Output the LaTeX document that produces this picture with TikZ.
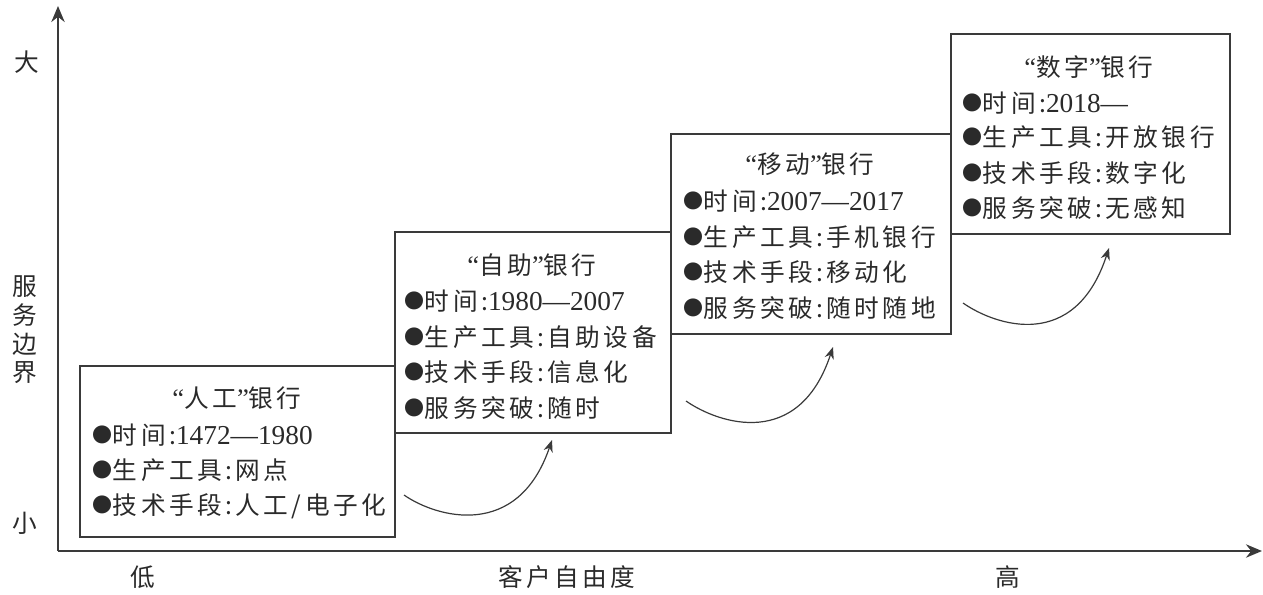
\documentclass[tikz,border=0pt]{standalone}
\usepackage{fontspec}
\setmainfont{Liberation Serif}
\newfontfamily\cjk[LetterSpace=14]{Noto Sans CJK SC}
\newfontfamily\cjkplain{Noto Sans CJK SC}
\usetikzlibrary{arrows.meta}
\definecolor{ink}{HTML}{2A2A2A}
\definecolor{linec}{HTML}{3A3A3A}
\newcommand{\bul}{{\cjkplain\fontsize{15}{15}\selectfont\raisebox{1.3pt}{●}}\hspace{0.5pt}}
\newcommand{\num}[1]{{\rmfamily\fontsize{20.5}{22}\selectfont #1}}
\newcommand{\oq}{{\rmfamily\fontsize{20}{22}\selectfont “}}
\newcommand{\cq}{{\rmfamily\fontsize{20}{22}\selectfont ”}}
\begin{document}
\begin{tikzpicture}[x=0.75pt,y=-0.75pt,
  axis/.style={draw=linec, line width=1.6pt, -{Stealth[length=12pt,width=10pt]}},
  curvy/.style={draw=linec, line width=0.9pt, -{Stealth[length=9pt,width=7pt]}},
  bankbox/.style={draw=linec, line width=1.2pt, inner sep=0pt, anchor=north west},
  txt/.style={inner sep=0pt, text=ink, font=\cjk\fontsize{18.5}{22}\selectfont},
  line/.style={txt, anchor=west},
  title/.style={txt, anchor=center},
  lab/.style={txt, anchor=center}]
\useasboundingbox (0,0) rectangle (1263,594);

% axes
\coordinate (o) at (58,551);
\coordinate (ytip) at (58,6);
\coordinate (xtip) at (1262,551);
\draw[axis] (o) -- (ytip);
\draw[axis] (o) -- (xtip);

% axis labels
\node[lab] (big) at (27,62) {大};
\node[lab] (small) at (25,523) {小};
\node[lab, align=center, font=\cjkplain\fontsize{18.5}{21.5}\selectfont] (svc) at (25,330) {服\\务\\边\\界};
\node[lab] (low) at (143,577) {低};
\node[lab] (free) at (567,577) {客户自由度};
\node[lab] (high) at (1008,577) {高};

% boxes
\node[bankbox, minimum width=315*0.75pt, minimum height=171*0.75pt] (b1) at (79,365) {};
\node[bankbox, minimum width=276*0.75pt, minimum height=201*0.75pt] (b2) at (394,231) {};
\node[bankbox, minimum width=280*0.75pt, minimum height=200*0.75pt] (b3) at (670,133) {};
\node[bankbox, minimum width=279*0.75pt, minimum height=200*0.75pt] (b4) at (950,33) {};

% box 1
\node[title] (t1) at (237,398) {\oq 人工\cq 银行};
\node[line] (l11) at (92,435) {\bul 时间:\num{1472—1980}};
\node[line] (l12) at (92,470) {\bul 生产工具:网点};
\node[line] (l13) at (92,506) {\bul 技术手段:人工/电子化};

% box 2
\node[title] (t2) at (532,265) {\oq 自助\cq 银行};
\node[line] (l21) at (404,301) {\bul 时间:\num{1980—2007}};
\node[line] (l22) at (404,337) {\bul 生产工具:自助设备};
\node[line] (l23) at (404,372) {\bul 技术手段:信息化};
\node[line] (l24) at (404,408) {\bul 服务突破:随时};

% box 3
\node[title] (t3) at (810,164) {\oq 移动\cq 银行};
\node[line] (l31) at (683,201) {\bul 时间:\num{2007—2017}};
\node[line] (l32) at (683,237) {\bul 生产工具:手机银行};
\node[line] (l33) at (683,272) {\bul 技术手段:移动化};
\node[line] (l34) at (683,308) {\bul 服务突破:随时随地};

% box 4
\node[title] (t4) at (1089,67) {\oq 数字\cq 银行};
\node[line] (l41) at (962,103) {\bul 时间:\num{2018—}};
\node[line] (l42) at (962,137) {\bul 生产工具:开放银行};
\node[line] (l43) at (962,173) {\bul 技术手段:数字化};
\node[line] (l44) at (962,208) {\bul 服务突破:无感知};

% curved arrows
\coordinate (c1s) at (404,495); \coordinate (c1e) at (552,440);
\coordinate (c2s) at (686,401); \coordinate (c2e) at (833,347);
\coordinate (c3s) at (963,303); \coordinate (c3e) at (1109,248);
\draw[curvy] (c1s) .. controls (437,518) and (518,540) .. (c1e);
\draw[curvy] (c2s) .. controls (719,424) and (799,450) .. (c2e);
\draw[curvy] (c3s) .. controls (996,326) and (1075,352) .. (c3e);
\end{tikzpicture}
\end{document}
